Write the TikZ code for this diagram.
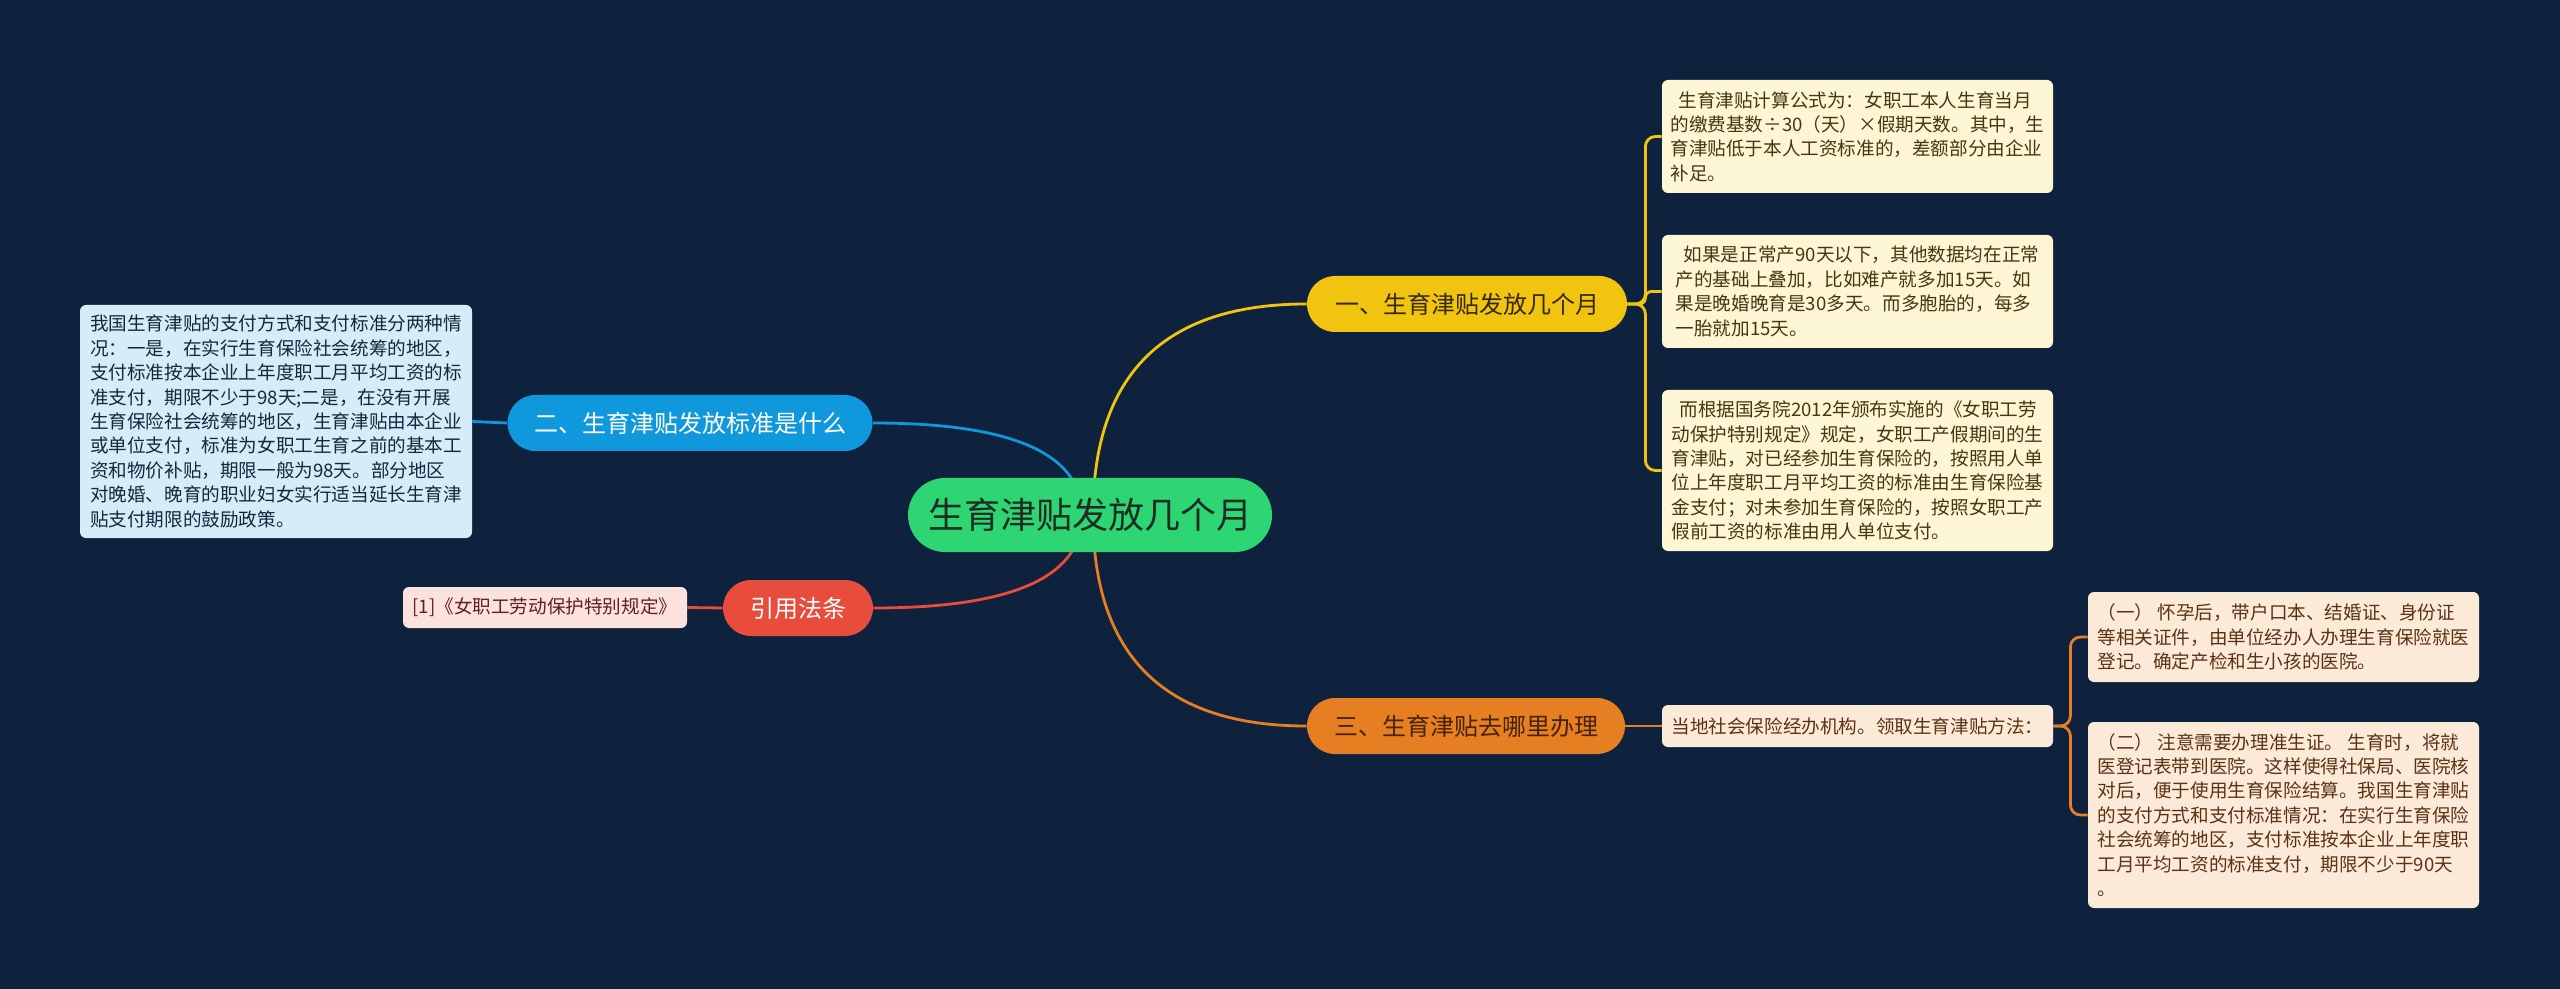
\documentclass[tikz,border=0pt]{standalone}
\usepackage{fontspec}
\setmainfont{Noto Sans CJK SC}
\usetikzlibrary{calc}
\pgfdeclarelayer{back}\pgfdeclarelayer{links}
\pgfsetlayers{back,links,main}
\definecolor{bgc}{RGB}{14,34,62}
\definecolor{rootc}{RGB}{46,213,115}
\definecolor{roott}{RGB}{30,45,35}
\definecolor{ylw}{RGB}{241,196,15}
\definecolor{ylwt}{RGB}{55,40,5}
\definecolor{org}{RGB}{230,126,34}
\definecolor{orgt}{RGB}{70,35,5}
\definecolor{blu}{RGB}{16,152,220}
\definecolor{redc}{RGB}{231,76,60}
\definecolor{leafy}{RGB}{253,246,212}
\definecolor{leafyt}{RGB}{70,55,15}
\definecolor{leafb}{RGB}{214,236,248}
\definecolor{leafbt}{RGB}{20,40,60}
\definecolor{leafr}{RGB}{252,226,222}
\definecolor{leafrt}{RGB}{100,30,30}
\definecolor{leafo}{RGB}{252,234,216}
\definecolor{leafot}{RGB}{90,50,20}
\begin{document}
\begin{tikzpicture}[x=0.5pt,y=-0.5pt,
  rootbox/.style={fill=rootc, text=roott, rounded corners=18.5pt, minimum width=182pt, minimum height=37pt, inner sep=0pt, font=\fontsize{18pt}{22pt}\selectfont},
  branchbox/.style={rounded corners=14pt, minimum height=28pt, inner sep=0pt, font=\fontsize{12pt}{15pt}\selectfont},
  leafbox/.style={rounded corners=3pt, inner sep=0pt, align=left, minimum width=195.5pt, font=\fontsize{9.3pt}{12.2pt}\selectfont},
  link/.style={line width=1.4pt}
]
\begin{pgfonlayer}{back}
\fill[bgc] (0,0) rectangle (2560,989);
\end{pgfonlayer}

% root
\node[rootbox] (ctr) at (1090,515) {生育津贴发放几个月};

% branches
\node[branchbox, fill=ylw, text=ylwt, minimum width=160pt] (b1) at (1467,304) {一、生育津贴发放几个月};
\node[branchbox, fill=blu, text=white, minimum width=182.5pt] (b2) at (690,423) {二、生育津贴发放标准是什么};
\node[branchbox, fill=org, text=orgt, minimum width=159pt] (b3) at (1466,726) {三、生育津贴去哪里办理};
\node[branchbox, fill=redc, text=white, minimum width=75pt] (b4) at (798,608) {引用法条};

% yellow leaves
\node[leafbox, fill=leafy, text=leafyt, minimum height=56.5pt] (y1) at (1857.5,136.5) {\hspace{4pt}生育津贴计算公式为：女职工本人生育当月\\的缴费基数÷30（天）×假期天数。其中，生\\育津贴低于本人工资标准的，差额部分由企业\\补足。};
\node[leafbox, fill=leafy, text=leafyt, minimum height=56.5pt] (y2) at (1857.5,291.5) {\hspace{4pt}如果是正常产90天以下，其他数据均在正常\\产的基础上叠加，比如难产就多加15天。如\\果是晚婚晚育是30多天。而多胞胎的，每多\\一胎就加15天。};
\node[leafbox, fill=leafy, text=leafyt, minimum height=80.5pt] (y3) at (1857.5,470.5) {\hspace{4pt}而根据国务院2012年颁布实施的《女职工劳\\动保护特别规定》规定，女职工产假期间的生\\育津贴，对已经参加生育保险的，按照用人单\\位上年度职工月平均工资的标准由生育保险基\\金支付；对未参加生育保险的，按照女职工产\\假前工资的标准由用人单位支付。};

% blue leaf
\node[leafbox, fill=leafb, text=leafbt, minimum width=196pt, minimum height=116.5pt] (lb) at (276,421.5) {我国生育津贴的支付方式和支付标准分两种情\\况：一是，在实行生育保险社会统筹的地区，\\支付标准按本企业上年度职工月平均工资的标\\准支付，期限不少于98天;二是，在没有开展\\生育保险社会统筹的地区，生育津贴由本企业\\或单位支付，标准为女职工生育之前的基本工\\资和物价补贴，期限一般为98天。部分地区\\对晚婚、晚育的职业妇女实行适当延长生育津\\贴支付期限的鼓励政策。};

% red leaf
\node[leafbox, fill=leafr, text=leafrt, minimum width=142pt, minimum height=20.5pt] (lr) at (545,607.5) {[1]《女职工劳动保护特别规定》};

% orange leaves
\node[leafbox, fill=leafo, text=leafot, minimum height=21pt] (o1) at (1857.5,726) {当地社会保险经办机构。领取生育津贴方法：};
\node[leafbox, fill=leafo, text=leafot, minimum height=45pt] (o2) at (2283.5,637) {（一） 怀孕后，带户口本、结婚证、身份证\\等相关证件，由单位经办人办理生育保险就医\\登记。确定产检和生小孩的医院。};
\node[leafbox, fill=leafo, text=leafot, minimum height=93pt] (o3) at (2283.5,815) {（二） 注意需要办理准生证。 生育时，将就\\医登记表带到医院。这样使得社保局、医院核\\对后，便于使用生育保险结算。我国生育津贴\\的支付方式和支付标准情况：在实行生育保险\\社会统筹的地区，支付标准按本企业上年度职\\工月平均工资的标准支付，期限不少于90天\\。};

% start points and quadratic control points
\coordinate (sr) at ([xshift=1.5pt]ctr.center);
\coordinate (sl) at ([xshift=-4pt]ctr.center);
\coordinate (a1) at (sr |- b1);
\coordinate (a3) at (sr |- b3);
\coordinate (a2) at (sl |- b2);
\coordinate (a4) at (sl |- b4);

\begin{pgfonlayer}{links}
% root to branches (quadratic curves)
\draw[link, ylw] (sr) .. controls ($(sr)!0.667!(a1)$) and ($(b1.west)!0.667!(a1)$) .. (b1.west);
\draw[link, org] (sr) .. controls ($(sr)!0.667!(a3)$) and ($(b3.west)!0.667!(a3)$) .. (b3.west);
\draw[link, blu] (sl) .. controls ($(sl)!0.667!(a2)$) and ($(b2.east)!0.667!(a2)$) .. (b2.east);
\draw[link, redc] (sl) .. controls ($(sl)!0.667!(a4)$) and ($(b4.east)!0.667!(a4)$) .. (b4.east);
% branches to leaves
\draw[link, ylw, rounded corners=5pt] (b1.east) -- ++(9pt,0) |- (y1.west);
\draw[link, ylw, rounded corners=3pt] (b1.east) -- ++(9pt,0) |- (y2.west);
\draw[link, ylw, rounded corners=5pt] (b1.east) -- ++(9pt,0) |- (y3.west);
\draw[link, blu] (b2.west) -- (lb.east);
\draw[link, redc] (b4.west) -- (lr.east);
\draw[link, org] (b3.east) -- (o1.west);
\draw[link, org, rounded corners=5pt] (o1.east) -- ++(8.5pt,0) |- (o2.west);
\draw[link, org, rounded corners=5pt] (o1.east) -- ++(8.5pt,0) |- (o3.west);
\end{pgfonlayer}
\end{tikzpicture}
\end{document}
